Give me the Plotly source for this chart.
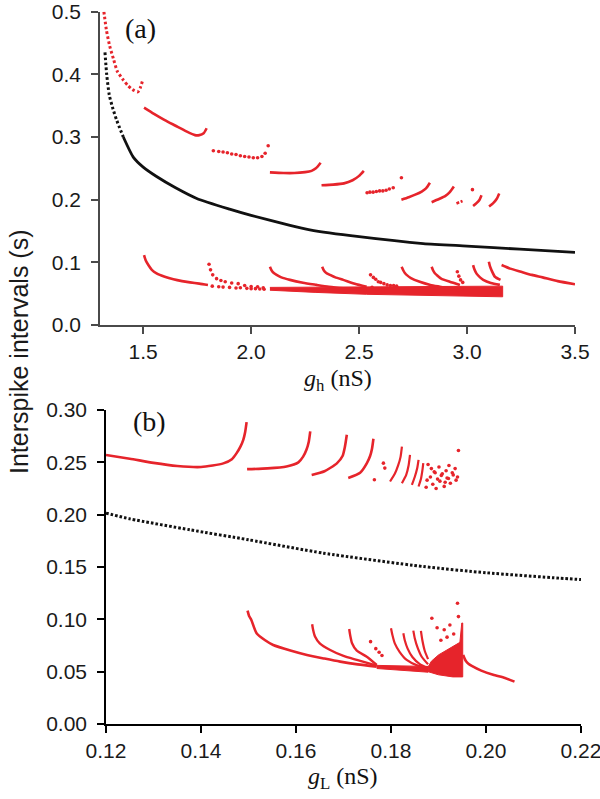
import plotly.graph_objects as go

RED = "#e6242b"
BLK = "#111111"

# ---------------- Panel (a) data: x = g_h (nS), y = ISI (s) ----------------
a_black_top_x = [1.323, 1.331, 1.343, 1.36, 1.377, 1.408]
a_black_top_y = [0.435, 0.400, 0.367, 0.345, 0.327, 0.300]
a_black_x = [1.408, 1.454, 1.5, 1.562, 1.65, 1.748, 1.9, 2.0, 2.18, 2.272, 2.5, 2.797, 3.0, 3.244, 3.5]
a_black_y = [0.300, 0.268, 0.252, 0.237, 0.219, 0.202, 0.185, 0.175, 0.159, 0.152, 0.141, 0.130, 0.126, 0.121, 0.116]

a_up1_x = [1.318, 1.33, 1.345, 1.362, 1.38, 1.408, 1.43, 1.45, 1.475, 1.487, 1.498]
a_up1_y = [0.500, 0.470, 0.445, 0.425, 0.405, 0.391, 0.382, 0.376, 0.372, 0.379, 0.391]
a_up2_x = [1.504, 1.55, 1.60, 1.65, 1.70, 1.74, 1.76, 1.78, 1.794]
a_up2_y = [0.347, 0.337, 0.327, 0.318, 0.309, 0.303, 0.303, 0.306, 0.314]
a_up3_x = [1.825, 1.85, 1.87, 1.89, 1.91, 1.93, 1.95, 1.97, 1.99, 2.01, 2.03, 2.05, 2.065, 2.079]
a_up3_y = [0.278, 0.277, 0.276, 0.275, 0.273, 0.272, 0.270, 0.269, 0.268, 0.267, 0.267, 0.269, 0.274, 0.286]
a_up4_x = [2.087, 2.15, 2.20, 2.25, 2.28, 2.30, 2.322]
a_up4_y = [0.2435, 0.2425, 0.2425, 0.244, 0.246, 0.250, 0.259]
a_up5_x = [2.326, 2.38, 2.43, 2.47, 2.50, 2.522]
a_up5_y = [0.223, 0.224, 0.226, 0.231, 0.238, 0.246]
a_up6_x = [2.537, 2.55, 2.565, 2.58, 2.595, 2.61, 2.625, 2.64, 2.658, 2.696]
a_up6_y = [0.211, 0.212, 0.212, 0.213, 0.214, 0.214, 0.215, 0.217, 0.219, 0.235]
a_up7_x = [2.696, 2.73, 2.76, 2.79, 2.81, 2.828]
a_up7_y = [0.200, 0.204, 0.208, 0.213, 0.218, 0.227]
a_up8_x = [2.836, 2.87, 2.90, 2.92, 2.939]
a_up8_y = [0.196, 0.201, 0.206, 0.212, 0.221]
a_up9_x = [2.951, 2.965, 2.979]
a_up9_y = [0.194, 0.196, 0.198]
a_up9_dot_x = [3.025]
a_up9_dot_y = [0.216]
a_up10_x = [3.028, 3.045, 3.058, 3.067]
a_up10_y = [0.190, 0.195, 0.200, 0.207]
a_up11_x = [3.102, 3.12, 3.137, 3.149]
a_up11_y = [0.189, 0.194, 0.201, 0.210]

a_lo1_x = [1.504, 1.512, 1.524, 1.54, 1.562, 1.60, 1.64, 1.68, 1.717, 1.76, 1.80]
a_lo1_y = [0.1116, 0.103, 0.0957, 0.088, 0.0824, 0.077, 0.0729, 0.070, 0.068, 0.066, 0.0638]
a_lo1_tail_x = [1.82, 1.85, 1.87, 1.90, 1.93, 1.95, 1.98, 2.00, 2.02, 2.04, 2.06]
a_lo1_tail_y = [0.062, 0.061, 0.0605, 0.060, 0.059, 0.0595, 0.0585, 0.058, 0.058, 0.0575, 0.057]
a_lo2_x = [1.805, 1.812, 1.822, 1.84, 1.86, 1.88, 1.91, 1.94, 1.97, 2.00, 2.03, 2.056]
a_lo2_y = [0.097, 0.088, 0.080, 0.074, 0.071, 0.069, 0.067, 0.066, 0.063, 0.0615, 0.061, 0.0595]
a_lo3_x = [2.087, 2.095, 2.105, 2.118, 2.14, 2.18, 2.24, 2.303, 2.36, 2.427, 2.48, 2.535]
a_lo3_y = [0.093, 0.087, 0.083, 0.080, 0.076, 0.072, 0.0675, 0.064, 0.061, 0.0585, 0.057, 0.056]
a_lo4_x = [2.329, 2.337, 2.348, 2.365, 2.39, 2.427, 2.48, 2.535]
a_lo4_y = [0.093, 0.087, 0.083, 0.080, 0.076, 0.072, 0.066, 0.061]
a_lo_dots_x = [2.553, 2.566, 2.577, 2.589, 2.60, 2.615, 2.63, 2.645, 2.66, 2.674, 2.56, 2.585, 2.61]
a_lo_dots_y = [0.080, 0.076, 0.073, 0.069, 0.068, 0.066, 0.064, 0.063, 0.063, 0.062, 0.060, 0.057, 0.056]
a_lo5_x = [2.697, 2.705, 2.712, 2.72, 2.74, 2.781, 2.83, 2.874, 2.951]
a_lo5_y = [0.093, 0.087, 0.083, 0.080, 0.075, 0.069, 0.064, 0.061, 0.056]
a_lo6_x = [2.836, 2.843, 2.85, 2.859, 2.88, 2.92, 2.967]
a_lo6_y = [0.093, 0.087, 0.083, 0.080, 0.074, 0.069, 0.064]
a_lo_dots2_x = [2.955, 2.962, 2.97, 2.98, 2.948, 2.958, 2.975]
a_lo_dots2_y = [0.085, 0.078, 0.072, 0.068, 0.059, 0.055, 0.057]
a_lo7_x = [3.028, 3.034, 3.044, 3.06, 3.075, 3.11, 3.152]
a_lo7_y = [0.0957, 0.089, 0.082, 0.076, 0.072, 0.067, 0.064]
a_lo8_x = [3.101, 3.106, 3.113, 3.129, 3.155]
a_lo8_y = [0.101, 0.094, 0.0877, 0.077, 0.072]
a_lo9_x = [3.16, 3.20, 3.25, 3.30, 3.35, 3.42, 3.5]
a_lo9_y = [0.0957, 0.090, 0.085, 0.080, 0.076, 0.070, 0.065]

a_band_x = [2.087, 2.3, 2.535, 2.75, 2.95, 3.165, 3.165, 2.95, 2.75, 2.535, 2.3, 2.087]
a_band_y = [0.060, 0.0605, 0.061, 0.061, 0.0615, 0.062, 0.045, 0.046, 0.047, 0.049, 0.052, 0.0555]

# ---------------- Panel (b) data: x = g_L (nS), y = ISI (s) ----------------
b_black_x = [0.12, 0.125, 0.1377, 0.15, 0.1658, 0.1868, 0.20, 0.2156, 0.22]
b_black_y = [0.2015, 0.196, 0.1855, 0.176, 0.1632, 0.1504, 0.1445, 0.1393, 0.138]

b_up1_x = [0.12, 0.125, 0.13, 0.135, 0.14, 0.1447, 0.1465, 0.1475, 0.1483, 0.1489, 0.1493, 0.1496]
b_up1_y = [0.257, 0.2535, 0.2495, 0.2465, 0.2455, 0.249, 0.253, 0.2588, 0.265, 0.2715, 0.279, 0.2884]
b_up2_x = [0.1497, 0.154, 0.158, 0.1605, 0.1615, 0.1622, 0.1627, 0.163]
b_up2_y = [0.2435, 0.2442, 0.246, 0.250, 0.2555, 0.262, 0.270, 0.2795]
b_up3_x = [0.1633, 0.166, 0.1686, 0.1698, 0.1703, 0.1707]
b_up3_y = [0.238, 0.2415, 0.249, 0.256, 0.265, 0.2763]
b_up4_x = [0.171, 0.1735, 0.1749, 0.1756, 0.176, 0.1763]
b_up4_y = [0.235, 0.240, 0.249, 0.256, 0.263, 0.2725]
b_up5_x = [0.1798, 0.1808, 0.1815, 0.182, 0.1823]
b_up5_y = [0.2317, 0.239, 0.247, 0.255, 0.2651]
b_up6_x = [0.1823, 0.1832, 0.1837, 0.184]
b_up6_y = [0.2301, 0.238, 0.247, 0.2572]
b_up7_x = [0.1844, 0.185, 0.1855, 0.1858]
b_up7_y = [0.2285, 0.236, 0.244, 0.2524]
b_up8_x = [0.1858, 0.1863, 0.1866, 0.1868]
b_up8_y = [0.2269, 0.234, 0.242, 0.2492]
b_up_dots_x = [0.1765, 0.1784, 0.1787, 0.1874, 0.1876, 0.1888, 0.1895, 0.1903, 0.1912, 0.1918, 0.1925,
               0.1931, 0.1937, 0.1942, 0.1878, 0.1885, 0.1893, 0.1901, 0.1908, 0.1916, 0.1922, 0.1929, 0.1935, 0.194,
               0.1883, 0.1891, 0.1898, 0.1906, 0.1914, 0.1921]
b_up_dots_y = [0.2333, 0.2492, 0.2445, 0.2262, 0.2330, 0.2290, 0.2250, 0.2320, 0.2270, 0.2350, 0.2300,
               0.2380, 0.2330, 0.2613, 0.2480, 0.2440, 0.2400, 0.2455, 0.2390, 0.2420, 0.2470, 0.2400, 0.2440, 0.2360,
               0.2360, 0.2410, 0.2340, 0.2375, 0.2310, 0.2345]

b_lo1_x = [0.1498, 0.1501, 0.1506, 0.1517, 0.1535, 0.1552, 0.159, 0.1623, 0.166, 0.1693, 0.173, 0.177]
b_lo1_y = [0.1083, 0.1035, 0.0994, 0.0867, 0.080, 0.0755, 0.070, 0.066, 0.0625, 0.0596, 0.057, 0.0548]
b_lo2_x = [0.1634, 0.1636, 0.164, 0.165, 0.1672, 0.170, 0.1728, 0.177]
b_lo2_y = [0.0953, 0.090, 0.0835, 0.077, 0.0707, 0.065, 0.0612, 0.0557]
b_lo3_x = [0.1712, 0.1714, 0.1718, 0.1728, 0.1749, 0.177]
b_lo3_y = [0.0908, 0.085, 0.0771, 0.070, 0.0643, 0.0564]
b_lo4_x = [0.180, 0.1803, 0.1808, 0.1818, 0.1833, 0.1855, 0.1878]
b_lo4_y = [0.0915, 0.085, 0.077, 0.069, 0.0612, 0.056, 0.0532]
b_lo5_x = [0.1826, 0.1829, 0.1835, 0.1845, 0.186, 0.1878]
b_lo5_y = [0.0867, 0.080, 0.072, 0.064, 0.0575, 0.0535]
b_lo6_x = [0.1847, 0.185, 0.1856, 0.1865, 0.1878]
b_lo6_y = [0.0892, 0.082, 0.073, 0.064, 0.057]
b_lo7_x = [0.1863, 0.1866, 0.1871, 0.1878]
b_lo7_y = [0.089, 0.080, 0.070, 0.062]
b_lo_dots_x = [0.1757, 0.1768, 0.1775, 0.1781, 0.1886, 0.1897, 0.1912, 0.1924, 0.194, 0.1942, 0.1932, 0.1918, 0.1905]
b_lo_dots_y = [0.0787, 0.072, 0.0685, 0.0655, 0.101, 0.092, 0.090, 0.0946, 0.1154, 0.1026, 0.086, 0.083, 0.080]
b_cluster_x = [0.1878, 0.1885, 0.1900, 0.1915, 0.1930, 0.1945, 0.1949, 0.1951, 0.1951, 0.1930, 0.1900, 0.1878]
b_cluster_y = [0.0545, 0.0600, 0.0660, 0.0700, 0.0740, 0.0780, 0.0965, 0.0965, 0.0450, 0.0450, 0.0470, 0.0500]
b_band_x = [0.177, 0.182, 0.1878, 0.1878, 0.182, 0.177]
b_band_y = [0.0560, 0.0555, 0.0550, 0.0495, 0.0515, 0.0530]
b_lo10_x = [0.1952, 0.1955, 0.1958, 0.1963, 0.197, 0.199, 0.2015, 0.204, 0.206]
b_lo10_y = [0.066, 0.0625, 0.060, 0.0575, 0.0555, 0.051, 0.047, 0.044, 0.0405]

# ---------------- tick labels ----------------
a_xticks = [1.5, 2.0, 2.5, 3.0, 3.5]
a_xticklabels = ["1.5", "2.0", "2.5", "3.0", "3.5"]
a_yticks = [0.0, 0.1, 0.2, 0.3, 0.4, 0.5]
a_yticklabels = ["0.0", "0.1", "0.2", "0.3", "0.4", "0.5"]
b_xticks = [0.12, 0.14, 0.16, 0.18, 0.20, 0.22]
b_xticklabels = ["0.12", "0.14", "0.16", "0.18", "0.20", "0.22"]
b_yticks = [0.00, 0.05, 0.10, 0.15, 0.20, 0.25, 0.30]
b_yticklabels = ["0.00", "0.05", "0.10", "0.15", "0.20", "0.25", "0.30"]

fig = go.Figure()


def line(x, y, color=RED, width=2.6, dash="solid", xa="x", ya="y"):
    fig.add_trace(go.Scatter(x=x, y=y, mode="lines", xaxis=xa, yaxis=ya, cliponaxis=False,
                             line=dict(color=color, width=width, dash=dash, shape="spline", smoothing=0.6),
                             hoverinfo="skip", showlegend=False))


def dots(x, y, color=RED, size=3.6, xa="x", ya="y"):
    fig.add_trace(go.Scatter(x=x, y=y, mode="markers", xaxis=xa, yaxis=ya, cliponaxis=False,
                             marker=dict(color=color, size=size, line=dict(width=0)),
                             hoverinfo="skip", showlegend=False))


def poly(x, y, color=RED, xa="x", ya="y"):
    fig.add_trace(go.Scatter(x=x, y=y, mode="lines", fill="toself", fillcolor=color, xaxis=xa, yaxis=ya,
                             line=dict(color=color, width=1), hoverinfo="skip", showlegend=False))


DOTTED = "2.6px,2.4px"

# panel (a)
line(a_black_top_x, a_black_top_y, BLK, 3, DOTTED)
line(a_black_x, a_black_y, BLK, 2.8)
line(a_up1_x, a_up1_y, RED, 3, DOTTED)
line(a_up2_x, a_up2_y, RED, 2.6)
dots(a_up3_x, a_up3_y)
line(a_up4_x, a_up4_y, RED, 2.6)
line(a_up5_x, a_up5_y, RED, 2.6)
dots(a_up6_x, a_up6_y)
line(a_up7_x, a_up7_y, RED, 2.6)
line(a_up8_x, a_up8_y, RED, 2.6)
line(a_up9_x, a_up9_y, RED, 2.6, DOTTED)
dots(a_up9_dot_x, a_up9_dot_y)
line(a_up10_x, a_up10_y, RED, 2.6)
line(a_up11_x, a_up11_y, RED, 2.6)
poly(a_band_x, a_band_y)
line(a_lo1_x, a_lo1_y, RED, 2.6)
dots(a_lo1_tail_x, a_lo1_tail_y)
dots(a_lo2_x, a_lo2_y)
line(a_lo3_x, a_lo3_y, RED, 2.6)
line(a_lo4_x, a_lo4_y, RED, 2.6)
dots(a_lo_dots_x, a_lo_dots_y)
line(a_lo5_x, a_lo5_y, RED, 2.6)
line(a_lo6_x, a_lo6_y, RED, 2.6)
dots(a_lo_dots2_x, a_lo_dots2_y)
line(a_lo7_x, a_lo7_y, RED, 2.6)
line(a_lo8_x, a_lo8_y, RED, 2.6)
line(a_lo9_x, a_lo9_y, RED, 2.6)

# panel (b)
B = dict(xa="x2", ya="y2")
line(b_black_x, b_black_y, BLK, 3, "2.6px,2.0px", **B)
line(b_up1_x, b_up1_y, RED, 2.6, **B)
line(b_up2_x, b_up2_y, RED, 2.6, **B)
line(b_up3_x, b_up3_y, RED, 2.6, **B)
line(b_up4_x, b_up4_y, RED, 2.6, **B)
line(b_up5_x, b_up5_y, RED, 2.2, **B)
line(b_up6_x, b_up6_y, RED, 2.2, **B)
line(b_up7_x, b_up7_y, RED, 2.2, **B)
line(b_up8_x, b_up8_y, RED, 2.2, **B)
dots(b_up_dots_x, b_up_dots_y, **B)
poly(b_band_x, b_band_y, **B)
poly(b_cluster_x, b_cluster_y, **B)
line(b_lo1_x, b_lo1_y, RED, 2.6, **B)
line(b_lo2_x, b_lo2_y, RED, 2.4, **B)
line(b_lo3_x, b_lo3_y, RED, 2.4, **B)
line(b_lo4_x, b_lo4_y, RED, 2.2, **B)
line(b_lo5_x, b_lo5_y, RED, 2.2, **B)
line(b_lo6_x, b_lo6_y, RED, 2.2, **B)
line(b_lo7_x, b_lo7_y, RED, 2.2, **B)
dots(b_lo_dots_x, b_lo_dots_y, **B)
line(b_lo10_x, b_lo10_y, RED, 2.6, **B)

TICKFONT = dict(family="Liberation Sans, Arial, sans-serif", size=21, color="#1a1a1a")
common = dict(showgrid=False, zeroline=False, showline=True, ticks="outside", automargin=False,
              ticklabeloverflow="allow",
              ticklen=7, tickwidth=1.6, linewidth=1.6, tickfont=TICKFONT, mirror=False)

W, H = 600, 799


def px(x):
    return x / W


def py(y):
    return 1 - y / H


fig.update_layout(
    width=W, height=H, margin=dict(l=0, r=0, t=0, b=0, pad=0, autoexpand=False),
    paper_bgcolor="white", plot_bgcolor="white",
    xaxis=dict(domain=[px(100), px(575)], range=[1.3, 3.5], anchor="y",
               tickvals=a_xticks, ticktext=a_xticklabels,
               linecolor="#4a4a4a", tickcolor="#4a4a4a", **common),
    yaxis=dict(domain=[py(325), py(11.7)], range=[0, 0.5], anchor="x",
               tickvals=a_yticks, ticktext=a_yticklabels, ticklabelstandoff=6,
               linecolor="#4a4a4a", tickcolor="#4a4a4a", **common),
    xaxis2=dict(domain=[px(106), px(581)], range=[0.12, 0.22], anchor="y2",
                tickvals=b_xticks, ticktext=b_xticklabels,
                linecolor="#000", tickcolor="#000", **common),
    yaxis2=dict(domain=[py(724), py(410)], range=[0, 0.30], anchor="x2",
                tickvals=b_yticks, ticktext=b_yticklabels, ticklabelstandoff=6,
                linecolor="#000", tickcolor="#000", **common),
)

SERIF = "Liberation Serif, Times New Roman, serif"
ann = [
    dict(text="(a)", x=px(140), y=py(28), font=dict(family=SERIF, size=28, color="#111")),
    dict(text="(b)", x=px(149), y=py(422), font=dict(family=SERIF, size=28, color="#111")),
    dict(text="<i>g</i><sub>h</sub> (nS)", x=px(338), y=py(380), font=dict(family=SERIF, size=24, color="#111")),
    dict(text="<i>g</i><sub>L</sub> (nS)", x=px(343), y=py(778), font=dict(family=SERIF, size=24, color="#111")),
    dict(text="Interspike intervals (s)", x=px(19), y=py(352), textangle=-90,
         font=dict(family="Liberation Sans, Arial, sans-serif", size=25, color="#1a1a1a")),
]
for a in ann:
    fig.add_annotation(xref="paper", yref="paper", showarrow=False, xanchor="center", yanchor="middle", **a)

# remove the default 8px page margin so the figure sits at the window's top-left corner
fig.write_html("out.html", config={"displayModeBar": False},
               post_script="document.body.style.margin='0';document.body.style.overflow='hidden';")
